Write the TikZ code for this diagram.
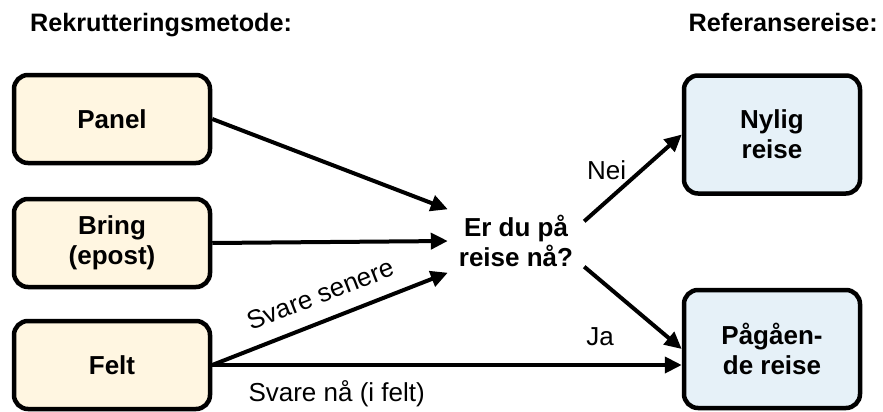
\documentclass[tikz,border=0pt]{standalone}
\usepackage{fontspec}
\setmainfont{Liberation Sans}
\usetikzlibrary{arrows.meta,positioning}
\definecolor{metodefarge}{HTML}{FFF6E1}
\definecolor{reisefarge}{HTML}{E6F1F8}
\begin{document}
\begin{tikzpicture}[x=1pt,y=-1pt,>={Triangle[length=17pt,width=16pt]},
		boks/.style={draw,line width=4.5pt,rounded corners=14pt,align=center,inner sep=0pt,
			font=\bfseries\fontsize{26}{30}\selectfont},
		metode/.style={boks,fill=metodefarge,minimum width=196pt,minimum height=88pt},
		reise/.style={boks,fill=reisefarge,minimum width=176pt,minimum height=118pt},
		pil/.style={->,line width=4pt},
		merke/.style={inner sep=0pt,font=\fontsize{26}{30}\selectfont},
		overskrift/.style={inner sep=0pt,font=\bfseries\fontsize{25.2}{30}\selectfont}]
			\useasboundingbox (0,0) rectangle (883,412);
			\node[overskrift,anchor=base west] (hmetode) at (30,32) {Rekrutteringsmetode:};
			\node[overskrift,anchor=base east] (hreise) at (878,32) {Referansereise:};
			\node[metode] (panel) at (112,119) {Panel};
			\node[metode] (bring) at (112,243) {Bring\\(epost)};
			\node[metode] (felt) at (112,365) {Felt};
			\node[align=center,inner sep=0pt,minimum width=136pt,minimum height=63pt,
				font=\bfseries\fontsize{26}{30}\selectfont] (sporsmal) at (516,241) {Er du på\\reise nå?};
			\node[reise] (nylig) at (772,134.5) {Nylig\\reise};
			\node[reise] (pagaende) at (772,349) {Pågåen-\\de reise};
			\draw[pil] (panel.east) -- (sporsmal.north west);
			\draw[pil] (bring.east) -- (sporsmal.west);
			\draw[pil] (felt.east) -- (sporsmal.south west) node[merke,midway,sloped,above=15pt] {Svare senere};
			\draw[pil] (felt.east) -- (felt.east -| pagaende.west) node[merke,pos=0.265,below=14pt] {Svare nå (i felt)};
			\draw[pil] ([yshift=-12pt]sporsmal.north east) -- (nylig.west) node[merke,pos=0.45,above left] {Nei};
			\draw[pil] ([yshift=6pt]sporsmal.south east) -- (pagaende.west) node[merke,pos=0.55,below left=14pt and 22pt] {Ja};
	\end{tikzpicture}
\end{document}
